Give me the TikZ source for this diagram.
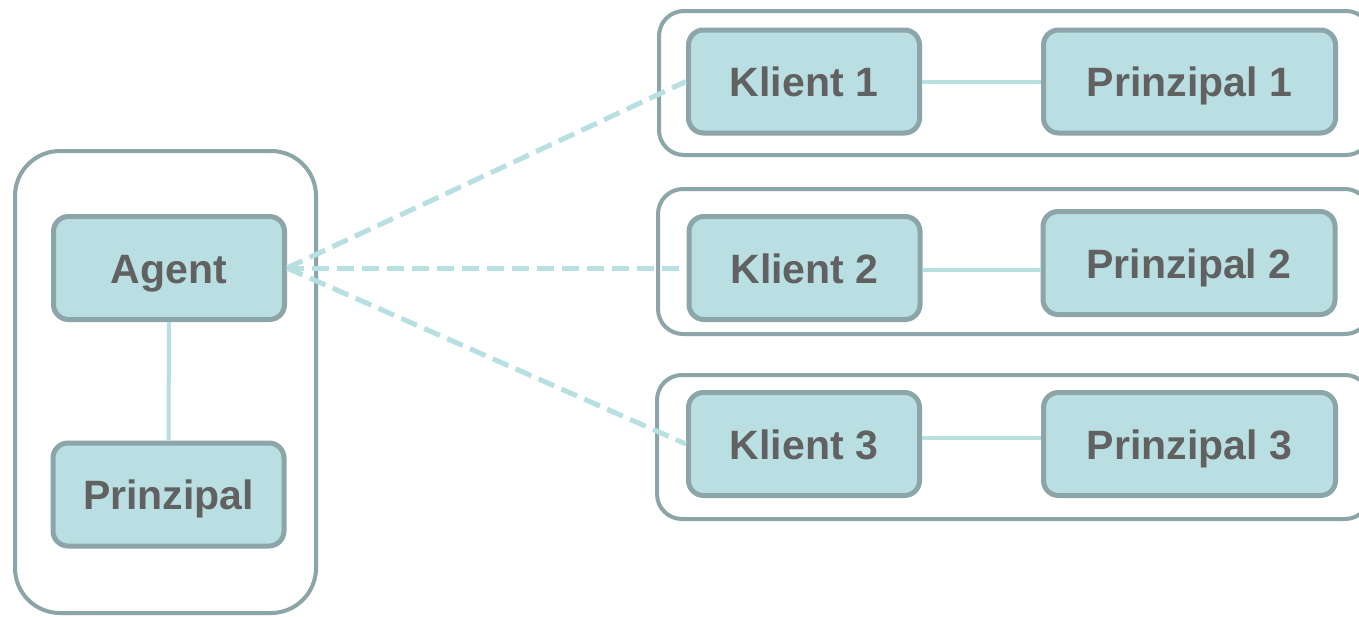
\documentclass[tikz,border=0pt]{standalone}
\usepackage{fontspec}
\setmainfont{Liberation Sans}
\definecolor{boxfill}{HTML}{BADFE2}
\definecolor{boxline}{HTML}{8BA5A8}
\definecolor{txt}{HTML}{616161}
\definecolor{conn}{HTML}{B8DFE2}
\tikzset{
  item/.style={draw=boxline, fill=boxfill, line width=5pt, rounded corners=15pt,
    minimum width=231pt, minimum height=103pt, inner sep=0pt,
    text height=38pt, text depth=8pt,
    text=txt, font=\fontsize{41}{48}\selectfont\bfseries},
  wide/.style={item, minimum width=292pt},
  group/.style={draw=boxline, line width=4pt, inner sep=0pt},
  solidlink/.style={draw=conn, line width=4pt},
  dashlink/.style={draw=conn, line width=5pt, dash pattern=on 17pt off 8pt}
}
\begin{document}
\begin{tikzpicture}[x=1pt,y=-1pt]
\clip (0,0) rectangle (1359,616);
\fill[white] (0,0) rectangle (1359,616);
% containers
\node[group, rounded corners=45pt, minimum width=301pt, minimum height=462pt] (gA) at (165.5,382) {};
\node[group, rounded corners=25pt, minimum width=712pt, minimum height=144pt] (g1) at (1015,83) {};
\node[group, rounded corners=25pt, minimum width=712pt, minimum height=145pt] (g2) at (1014,261.5) {};
\node[group, rounded corners=25pt, minimum width=713pt, minimum height=144pt] (g3) at (1013.5,447) {};
% nodes
\node[item] (agent) at (169,268) {Agent};
\node[item] (prin) at (168.5,494.5) {Prinzipal};
\node[item] (k1) at (804,81.5) {Klient 1};
\node[item] (k2) at (804.5,268) {Klient 2};
\node[item] (k3) at (804,444) {Klient 3};
\node[wide] (p1) at (1189.5,81.5) {Prinzipal 1};
\node[wide] (p2) at (1189,263) {Prinzipal 2};
\node[wide] (p3) at (1189.5,444) {Prinzipal 3};
% anchor points for the solid links
\coordinate (c1) at (k1.east);
\coordinate (c2) at ([yshift=-2pt]k2.east);
\coordinate (c3) at ([yshift=6pt]k3.east);
% connectors
\draw[solidlink] (agent.south) -- (prin.north);
\draw[solidlink] (c1) -- (c1 -| p1.west);
\draw[solidlink] (c2) -- (c2 -| p2.west);
\draw[solidlink] (c3) -- (c3 -| p3.west);
\draw[dashlink] (agent.east) -- (k1.west);
\draw[dashlink] (agent.east) -- (k2.west);
\draw[dashlink] (agent.east) -- (k3.west);
\end{tikzpicture}
\end{document}
